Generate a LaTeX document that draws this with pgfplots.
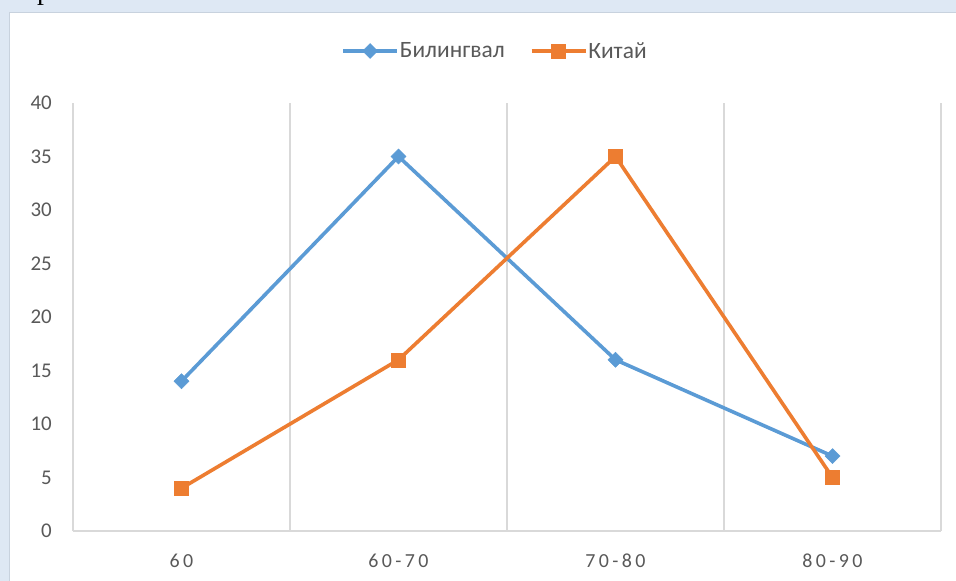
\documentclass[border=0pt]{standalone}
\usepackage{fontspec}
\setmainfont{Carlito}
\newfontfamily\serifr{Liberation Serif}
\usepackage{pgfplots}
\pgfplotsset{compat=1.18}
\definecolor{bgblue}{RGB}{222,232,244}
\definecolor{bordc}{RGB}{200,210,222}
\definecolor{cblue}{HTML}{5B9BD5}
\definecolor{corange}{HTML}{ED7D31}
\definecolor{gridc}{HTML}{D9D9D9}
\definecolor{txt}{HTML}{595959}
\begin{document}
\begin{tikzpicture}
\useasboundingbox (0,0) rectangle (956bp,581bp);
\fill[bgblue] (0,0) rectangle (956bp,581bp);
\node[anchor=base west, inner sep=0, font=\fontsize{28}{30}\selectfont\serifr] at (37bp,581bp) {р};
\fill[white] (9bp,0) rectangle (956bp,568bp);
\draw[bordc, line width=1bp] (9bp,0) -- (9bp,568bp) -- (956bp,568bp);
\begin{axis}[
  at={(73bp,50bp)}, anchor=south west,
  scale only axis, width=868bp, height=428bp,
  xmin=-0.5, xmax=3.5, ymin=0, ymax=40,
  xtick={0,1,2,3},
  xticklabels={60,60-70,70-80,80-90},
  ytick={0,5,...,40},
  minor xtick={-0.5,0.5,1.5,2.5,3.5},
  xminorgrids,
  minor grid style={gridc, line width=1.3bp},
  major tick length=0pt, minor tick length=0pt,
  axis line style={draw=none},
  /pgf/number format/assume math mode=true,
  yticklabel style={anchor=east, inner sep=0pt, xshift=-21bp, text=txt, font=\fontsize{21}{24}\selectfont},
  xticklabel style={anchor=base, inner sep=0pt, yshift=-36bp, text=txt, font=\fontsize{20}{24}\selectfont\addfontfeature{LetterSpace=17}},
  legend style={at={(0.4856,1.1215)}, anchor=center, draw=none, fill=none,
    legend columns=2, font=\fontsize{23.5}{27}\selectfont, text=txt,
    /tikz/every even column/.append style={column sep=24bp},
    nodes={inner sep=1bp}},
  legend image code/.code={\draw[mark repeat=2,mark phase=2,#1] plot coordinates {(0bp,0bp) (27bp,0bp) (54bp,0bp)};},
  clip=false,
]
\draw[gridc, line width=1.3bp] (rel axis cs:0,0) -- (rel axis cs:1,0);
\addplot[cblue, line width=3.6bp, mark=square*, mark size=5.3bp, mark options={rotate=45, fill=cblue, draw=cblue, line width=0.5bp, solid}] coordinates {(0,14) (1,35) (2,16) (3,7)};
\addlegendentry{Билингвал}
\addplot[corange, line width=3.6bp, mark=square*, mark size=7bp, mark options={fill=corange, draw=corange, line width=0.5bp, solid}] coordinates {(0,4) (1,16) (2,35) (3,5)};
\addlegendentry{Китай}
\end{axis}
\end{tikzpicture}
\end{document}
